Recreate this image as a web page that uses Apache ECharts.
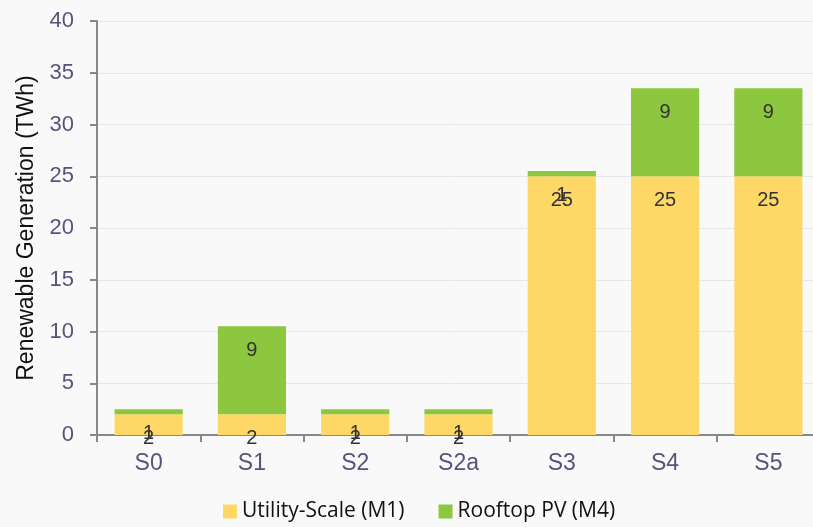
<!DOCTYPE html>
<html>
<head>
<meta charset="utf-8">
<script src="https://cdn.jsdelivr.net/npm/echarts@6/dist/echarts.min.js"></script>
<style>
  html, body { margin: 0; padding: 0; background: #f9f9fa; }
  #chart { width: 813px; height: 527px; }
</style>
</head>
<body>
<div id="chart"></div>
<script>
// scenarios on the x axis
var scenarios = ['S0', 'S1', 'S2', 'S2a', 'S3', 'S4', 'S5'];
// TWh by technology
var utilityScale = [2, 2, 2, 2, 25, 25, 25];
var rooftopPV = [0.5, 8.5, 0.5, 0.5, 0.5, 8.5, 8.5];
var yTicks = { min: 0, max: 40, interval: 5 };

var FONT = 'Liberation Sans';
var chart = echarts.init(document.getElementById('chart'));

var labelStyle = {
  show: true,
  position: 'insideTop',
  distance: 14,
  color: '#333',
  fontSize: 20,
  fontFamily: FONT,
  formatter: function (p) { return Math.round(p.value); }
};

var option = {
  backgroundColor: '#f9f9fa',
  animation: false,
  textStyle: { fontFamily: FONT },
  grid: { left: 97, top: 21, width: 723, height: 414, outerBoundsMode: 'none' },
  legend: {
    bottom: 0,
    left: 218,
    itemWidth: 14,
    itemHeight: 14,
    itemGap: 34,
    icon: 'rect',
    textStyle: { fontFamily: 'Open Sans', fontSize: 21, color: '#111' },
    data: ['Utility-Scale (M1)', 'Rooftop PV (M4)']
  },
  xAxis: {
    type: 'category',
    data: scenarios,
    axisLine: { lineStyle: { color: '#888', width: 2 } },
    axisTick: { show: true, length: 7, lineStyle: { color: '#888', width: 2 } },
    axisLabel: { color: '#55557a', fontSize: 23, margin: 17, fontFamily: FONT }
  },
  yAxis: {
    type: 'value',
    min: yTicks.min,
    max: yTicks.max,
    interval: yTicks.interval,
    name: 'Renewable Generation (TWh)',
    nameLocation: 'middle',
    nameGap: 59,
    nameTextStyle: { color: '#111', fontSize: 23, fontFamily: FONT },
    axisLine: { show: true, lineStyle: { color: '#888', width: 2 } },
    axisTick: { show: true, length: 7, lineStyle: { color: '#888', width: 2 } },
    axisLabel: { color: '#55557a', fontSize: 22, margin: 23, fontFamily: FONT },
    splitLine: { lineStyle: { color: '#e2e8ee', width: 1 } }
  },
  series: [
    {
      name: 'Utility-Scale (M1)',
      type: 'bar',
      stack: 'total',
      barCategoryGap: '34%',
      data: utilityScale,
      itemStyle: { color: '#fdd866' },
      label: labelStyle
    },
    {
      name: 'Rooftop PV (M4)',
      type: 'bar',
      stack: 'total',
      data: rooftopPV,
      itemStyle: { color: '#8dc63f' },
      label: labelStyle
    }
  ]
};

chart.setOption(option);
</script>
</body>
</html>
